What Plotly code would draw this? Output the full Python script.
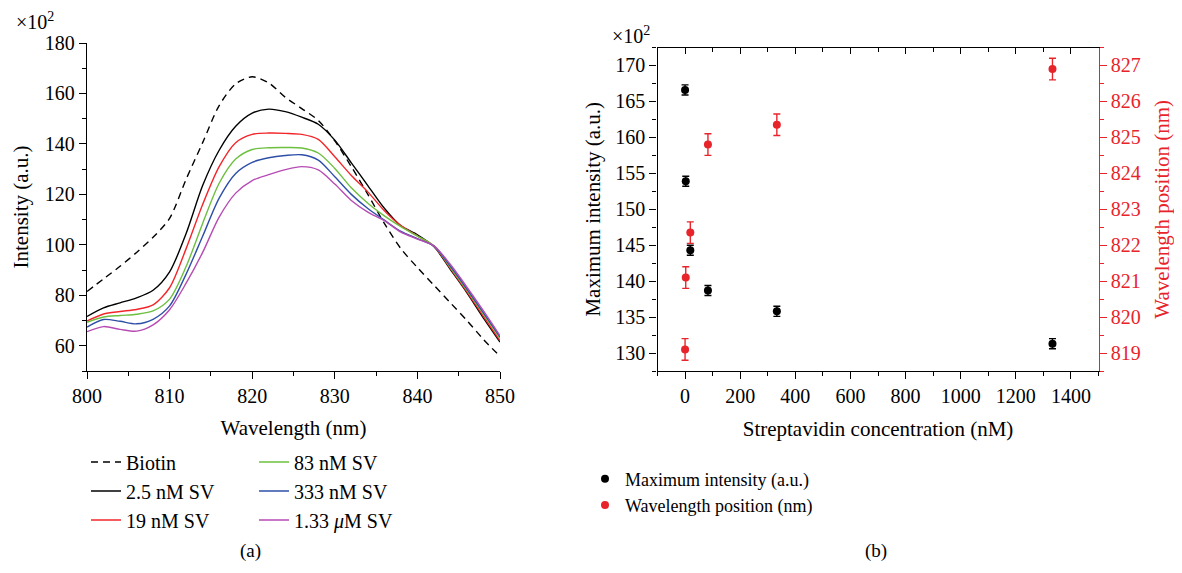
import plotly.graph_objects as go

# ---------------- data: panel (a) ----------------
wavelength = [800, 802, 804, 806, 808, 810, 812, 814, 816, 818, 820, 822, 824,
              826, 828, 830, 832, 834, 836, 838, 840, 842, 844, 846, 848, 850]
biotin = [81.5, 86.5, 91.5, 97, 103, 110.5, 126, 140.5, 155.2, 163.8, 166.6, 164.2, 158.5,
          154, 149.3, 141.2, 131, 120, 108.5, 98.5, 91, 84, 77, 70, 62.5, 55.8]
sv_2_5 = [71.6, 75, 77, 79, 82, 89.3, 104.5, 123.5, 137.5, 147, 152.2, 153.8, 152.8,
          150.6, 147.8, 141.5, 132.5, 123.5, 114.5, 107.5, 104, 99.3, 90.2, 81, 71, 61.5]
sv_19 = [69.8, 72.6, 73.6, 74.4, 76.2, 83, 98.5, 116, 131, 140.5, 143.8, 144.3, 144.2,
         143.8, 141.8, 134.9, 127.5, 121, 113.5, 107.6, 103.5, 99.5, 90.6, 81.4, 71.6, 62]
sv_83 = [69.3, 71.4, 72, 72.5, 73.8, 78.5, 91.4, 108.5, 124.4, 134, 137.8, 138.5, 138.6,
         138.4, 136.4, 130.3, 122.6, 116.5, 111.5, 107.2, 103.5, 99.6, 91, 82, 72.5, 63]
sv_333 = [67.4, 70.4, 69.7, 68.7, 70.5, 75.8, 88.4, 103.4, 118.5, 128.3, 132.7, 134.5, 135.4,
          135.7, 133.6, 127, 120, 114.4, 109.8, 105.3, 102.5, 99.5, 91.5, 82.5, 73, 63.5]
sv_1330 = [65.6, 67.6, 66.5, 65.8, 68.3, 74.3, 84.8, 97, 111, 120.5, 125.5, 127.8, 129.8,
           131, 129.7, 124.1, 117.6, 113, 109.6, 105, 102.3, 99.6, 92.2, 83.2, 73.8, 64]

# ---------------- data: panel (b) ----------------
concentration = [0, 2.5, 19, 83, 333, 1333]
max_intensity = [166.6, 153.9, 144.3, 138.7, 135.8, 131.3]
max_intensity_err = [0.7, 0.7, 0.7, 0.7, 0.7, 0.7]
wl_position = [819.1, 821.1, 822.35, 824.8, 825.35, 826.9]
wl_position_err = [0.3, 0.3, 0.3, 0.3, 0.3, 0.3]

FONT = "Liberation Serif"
RED = "#E8242B"
OFF = 8                      # browser default body margin
W, H = 1182 - 2 * OFF, 573 - 2 * OFF
FS = 20


def fx(px):
    return (px - OFF) / W


def fy(py):
    return 1 - (py - OFF) / H


fig = go.Figure()

curves = [
    ("Biotin", biotin, "black", "7px,5px", "legend"),
    ("2.5 nM SV", sv_2_5, "black", "solid", "legend"),
    ("19 nM SV", sv_19, "#F2262A", "solid", "legend"),
    ("83 nM SV", sv_83, "#6CBF3F", "solid", "legend2"),
    ("333 nM SV", sv_333, "#2E4FA8", "solid", "legend2"),
    ("1.33 <i>μ</i>M SV", sv_1330, "#B64BB4", "solid", "legend2"),
]
for name, vals, col, dash, lg in curves:
    fig.add_trace(go.Scatter(
        x=wavelength, y=vals, name=name, mode="lines",
        line=dict(color=col, width=1.4, dash=dash, shape="spline", smoothing=0.8),
        xaxis="x", yaxis="y", legend=lg))

fig.add_trace(go.Scatter(
    x=concentration, y=max_intensity, name="Maximum intensity (a.u.)", mode="markers",
    marker=dict(color="black", size=8),
    error_y=dict(type="data", array=max_intensity_err, color="black", thickness=1.4, width=3.5),
    xaxis="x2", yaxis="y2", legend="legend3"))
fig.add_trace(go.Scatter(
    x=concentration, y=wl_position, name="Wavelength position (nm)", mode="markers",
    marker=dict(color=RED, size=8),
    error_y=dict(type="data", array=wl_position_err, color=RED, thickness=1.4, width=3.5),
    xaxis="x2", yaxis="y3", legend="legend3"))
# invisible trace to activate top mirror axis
fig.add_trace(go.Scatter(x=[-100], y=[150], mode="markers", marker=dict(opacity=0),
                         showlegend=False, hoverinfo="skip", xaxis="x3", yaxis="y2"))

tickfont = dict(family=FONT, size=FS, color="black")
titlefont = dict(family=FONT, size=21, color="black")
redfont = dict(family=FONT, size=FS, color=RED)
redtitle = dict(family=FONT, size=21, color=RED)

common = dict(showgrid=False, zeroline=False, showline=True, linecolor="black",
              linewidth=1.4, ticks="outside", tickcolor="black", tickwidth=1.3,
              ticklen=7, tickfont=tickfont, automargin=False)

XL = [fx(87), fx(500)]
XR = [fx(657.5), fx(1098.5)]
YL = [fy(371), fy(43)]
YR = [fy(371), fy(47.5)]

fig.update_layout(
    width=W, height=H, margin=dict(l=0, r=0, t=0, b=0, autoexpand=False),
    paper_bgcolor="white", plot_bgcolor="white",
    font=dict(family=FONT, size=FS, color="black"),
    xaxis=dict(domain=XL, range=[800, 850], dtick=10, tick0=800,
               minor=dict(dtick=5, ticks="outside", ticklen=4, tickcolor="black", tickwidth=1.3),
               title=dict(text="Wavelength (nm)", font=titlefont, standoff=14),
               anchor="y", **common),
    yaxis=dict(domain=YL, range=[50, 180], dtick=20, tick0=0,
               minor=dict(dtick=10, ticks="outside", ticklen=4, tickcolor="black", tickwidth=1.3),
               title=dict(text="Intensity (a.u.)", font=titlefont, standoff=10),
               anchor="x", **common),
    xaxis2=dict(domain=XR, range=[-100, 1500], dtick=200, tick0=0,
                minor=dict(dtick=100, ticks="outside", ticklen=4, tickcolor="black", tickwidth=1.3),
                title=dict(text="Streptavidin concentration (nM)", font=titlefont, standoff=15),
                anchor="y2", **common),
    xaxis3=dict(domain=XR, range=[-100, 1500], dtick=200, tick0=0,
                overlaying="x2", side="top", anchor="y2", showticklabels=False,
                showgrid=False, zeroline=False, showline=True, linecolor="black", linewidth=1.4,
                ticks="inside", ticklen=6, tickcolor="black", tickwidth=1.3, automargin=False,
                minor=dict(dtick=100, ticks="inside", ticklen=4, tickcolor="black", tickwidth=1.3)),
    yaxis2=dict(domain=YR, range=[127.5, 172.5], dtick=5, tick0=0,
                minor=dict(dtick=2.5, ticks="outside", ticklen=4, tickcolor="black", tickwidth=1.3),
                title=dict(text="Maximum intensity (a.u.)", font=titlefont, standoff=8),
                anchor="x2", **common),
    yaxis3=dict(range=[818.5, 827.5], dtick=1, tick0=0, overlaying="y2", side="right",
                anchor="x2", showgrid=False, zeroline=False, showline=True, linecolor=RED,
                linewidth=1.4, ticks="outside", tickcolor=RED, tickwidth=1.3, ticklen=7,
                tickfont=redfont, automargin=False,
                minor=dict(dtick=0.5, ticks="outside", ticklen=4, tickcolor=RED, tickwidth=1.3),
                title=dict(text="Wavelength position (nm)", font=redtitle, standoff=18)),
    legend=dict(x=fx(86), y=fy(491), xanchor="left", yanchor="middle",
                bgcolor="rgba(0,0,0,0)", font=dict(family=FONT, size=FS),
                tracegroupgap=0, itemwidth=30),
    legend2=dict(x=fx(254), y=fy(491), xanchor="left", yanchor="middle",
                 bgcolor="rgba(0,0,0,0)", font=dict(family=FONT, size=FS),
                 tracegroupgap=0, itemwidth=30),
    legend3=dict(x=fx(585), y=fy(492), xanchor="left", yanchor="middle",
                 bgcolor="rgba(0,0,0,0)", font=dict(family=FONT, size=18),
                 tracegroupgap=0, itemwidth=30),
    showlegend=True,
)

fig.add_annotation(text="×10<sup>2</sup>", x=fx(14), y=fy(21), xref="paper", yref="paper",
                   xanchor="left", yanchor="middle", showarrow=False, font=tickfont)
fig.add_annotation(text="×10<sup>2</sup>", x=fx(610), y=fy(35), xref="paper", yref="paper",
                   xanchor="left", yanchor="middle", showarrow=False, font=tickfont)
fig.add_annotation(text="(a)", x=fx(250), y=fy(551), xref="paper", yref="paper",
                   xanchor="center", yanchor="middle", showarrow=False,
                   font=dict(family=FONT, size=19))
fig.add_annotation(text="(b)", x=fx(876), y=fy(551), xref="paper", yref="paper",
                   xanchor="center", yanchor="middle", showarrow=False,
                   font=dict(family=FONT, size=19))

fig.write_html("out.html")
